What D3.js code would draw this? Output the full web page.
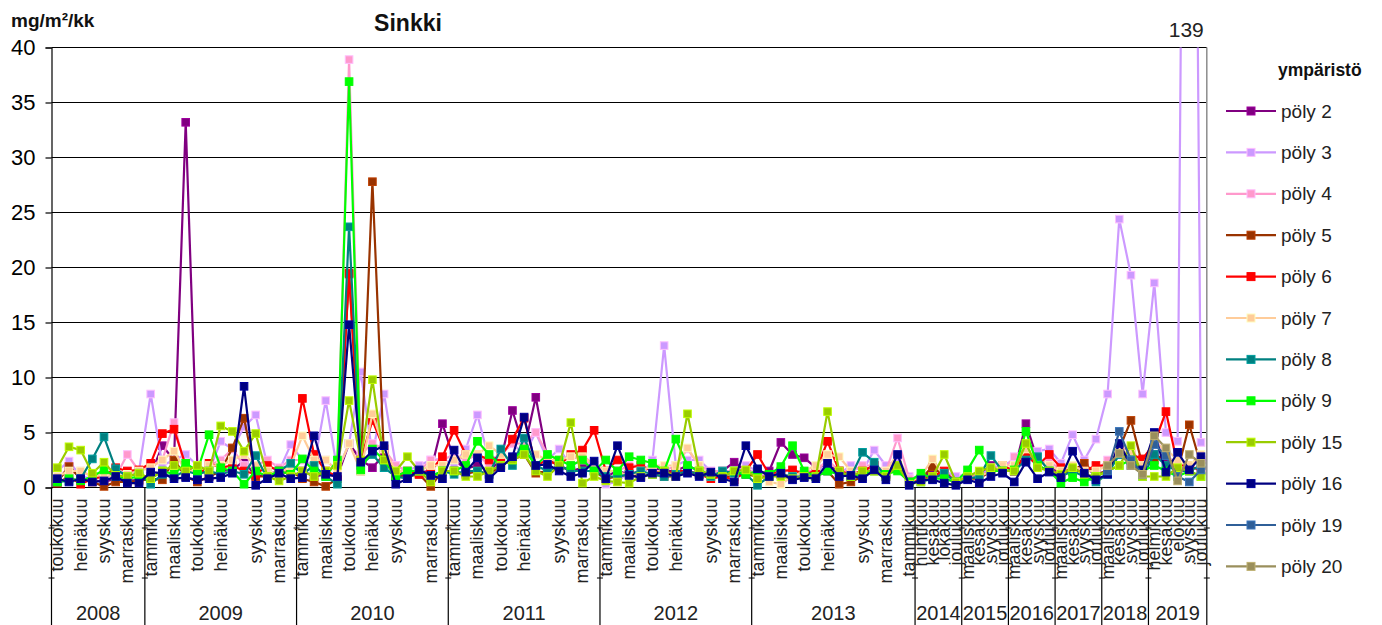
<!DOCTYPE html>
<html><head><meta charset="utf-8">
<script src="https://cdn.jsdelivr.net/npm/d3@7"></script>
<style>body{margin:0;background:#fff;}svg{display:block;}</style>
</head><body>
<svg id="chart" width="1382" height="625"></svg>
<script>
// Sampling years and number of collection periods in each year
const years = ["2008","2009","2010","2011","2012","2013","2014","2015","2016","2017","2018","2019"];
const periodsPerYear = [8,13,13,13,13,14,4,4,4,4,4,5];

// Month label of each period ("" = label not printed)
const monthLabels = [
  "toukokuu","","heinäkuu","","syyskuu","","marraskuu","",
  "tammikuu","","maaliskuu","","toukokuu","","heinäkuu","","","syyskuu","","marraskuu","",
  "tammikuu","","maaliskuu","","toukokuu","","heinäkuu","","syyskuu","","","marraskuu","",
  "tammikuu","","maaliskuu","","toukokuu","","heinäkuu","","","syyskuu","","marraskuu","",
  "tammikuu","","maaliskuu","","toukokuu","","heinäkuu","","","syyskuu","","marraskuu","",
  "tammikuu","","maaliskuu","","toukokuu","","heinäkuu","","","syyskuu","","marraskuu","","tammikuu",
  "huhtikuu","kesäkuu","lokakuu","joulukuu",
  "maaliskuu","kesäkuu","syyskuu","joulukuu",
  "maaliskuu","kesäkuu","syyskuu","joulukuu",
  "maaliskuu","kesäkuu","syyskuu","joulukuu",
  "maaliskuu","kesäkuu","syyskuu","joulukuu",
  "helmikuu","kesäkuu","elokuu","syyskuu","joulukuu"
];

const yTicks = [0,5,10,15,20,25,30,35,40];

// Zinc deposition, mg/m²/kk, per station
const poly2 = [0.6,1.9,0.9,0.7,0.5,0.8,0.6,0.7,
  1.2,3.8,2.5,33.2,1.9,1.0,1.5,1.6,2.4,1.0,1.2,1.5,2.0,
  1.5,1.0,1.2,1.0,4.0,2.5,1.8,3.0,1.0,1.2,1.4,1.5,5.8,
  2.5,1.7,2.0,1.5,2.5,7.0,3.5,8.2,2.5,2.0,1.5,1.8,2.0,
  1.0,1.5,1.2,1.5,1.8,1.5,1.5,2.0,1.5,1.2,1.5,2.3,1.5,
  1.2,1.5,4.1,3.0,2.7,1.8,2.0,1.5,1.2,1.5,2.0,1.2,2.5,0.5,
  0.8,1.5,0.8,0.5, 0.8,1.2,2.0,1.5, 1.5,5.8,2.5,2.0, 1.2,1.5,1.8,1.2, 1.5,3.0,2.5,2.0,
  3.0,2.5,1.5,2.0,2.5];
const poly3 = [1.5,2.4,1.0,0.8,1.0,1.2,1.5,1.5,
  8.5,2.0,2.5,3.0,2.0,1.5,4.2,3.5,5.5,6.6,2.0,1.5,3.9,
  2.5,2.0,7.9,1.5,4.0,10.5,3.0,8.5,2.0,1.5,2.0,2.5,2.6,
  2.0,3.5,6.6,2.5,3.0,4.0,3.0,5.0,2.5,3.5,2.0,2.5,2.0,
  0.3,0.5,1.5,1.0,2.5,12.9,2.0,2.5,2.5,1.5,1.2,1.2,2.0,
  1.5,1.0,1.2,1.0,1.0,1.5,2.0,1.2,2.0,1.5,3.4,2.0,2.5,1.0,
  0.8,1.0,1.5,1.0, 1.2,1.0,1.8,2.0, 2.5,2.5,3.3,3.5, 2.2,4.8,2.5,4.4, 8.5,24.4,19.3,8.5,
  18.6,5.0,4.2,139,4.1];
const poly4 = [1.0,1.5,1.5,1.0,1.2,1.0,3.0,1.5,
  2.0,2.5,5.9,1.5,1.5,2.0,2.5,3.5,2.0,2.0,2.5,1.8,2.5,
  2.5,3.0,2.5,1.5,38.9,3.0,4.0,3.5,2.0,1.5,1.5,2.5,2.5,
  3.0,2.5,3.0,2.0,3.0,4.0,4.0,5.0,3.0,2.5,2.5,3.0,2.0,
  1.5,1.5,2.0,2.0,1.5,1.5,2.0,3.5,2.0,1.5,1.5,1.5,1.5,
  1.5,1.0,1.5,1.5,1.5,1.5,2.5,1.5,1.5,2.0,2.0,1.5,4.5,0.8,
  0.8,1.0,1.0,0.5, 1.0,1.0,1.5,1.5, 2.8,3.5,2.0,2.5, 1.5,2.0,1.5,1.5, 2.5,3.5,3.5,2.0,
  4.5,3.0,2.0,2.0,2.5];
const poly5 = [0.5,1.9,0.8,0.5,0.1,0.5,0.5,0.6,
  0.8,0.7,2.5,1.0,0.5,1.0,1.5,3.6,6.3,1.0,1.0,1.2,1.5,
  0.8,0.5,0.1,0.8,19.4,1.5,27.8,2.5,1.0,1.0,1.2,0.1,1.5,
  1.5,1.2,1.5,1.2,2.0,2.5,3.0,1.3,1.5,2.0,1.5,1.5,1.5,
  0.8,1.0,1.2,1.0,1.2,1.0,1.0,1.5,1.2,1.0,1.0,1.0,1.2,
  1.0,1.0,1.2,0.8,1.0,1.0,1.5,0.3,0.5,1.0,1.5,1.0,2.0,0.5,
  0.8,1.9,1.0,0.5, 0.8,0.8,1.5,1.5, 1.5,3.0,2.0,1.5, 1.2,1.5,2.2,1.2, 1.5,3.5,6.1,2.0,
  2.5,3.0,1.5,5.7,2.0];
const poly6 = [0.4,1.0,0.3,0.8,1.0,1.8,1.5,1.6,
  2.2,4.9,5.3,2.0,1.0,2.2,1.8,2.0,1.5,1.2,2.0,1.5,1.7,
  8.1,3.0,1.5,1.0,19.5,2.5,6.1,3.5,1.0,1.5,1.2,1.5,2.8,
  5.2,3.0,3.0,2.5,2.8,4.4,6.3,2.0,2.5,2.0,3.0,3.4,5.2,
  1.5,2.5,1.8,2.0,1.5,1.2,1.5,1.5,1.2,0.8,1.0,0.7,1.5,
  3.0,1.2,1.5,1.6,1.2,1.5,4.2,1.5,1.2,1.5,2.0,1.2,2.0,0.5,
  0.8,1.0,1.5,0.5, 1.0,1.0,1.5,2.0, 1.5,3.0,2.0,3.0, 1.8,1.5,1.5,2.0, 2.0,3.4,3.0,2.6,
  4.0,6.9,2.0,2.0,1.5];
const poly7 = [1.0,1.5,1.5,1.0,1.2,1.0,1.2,1.5,
  1.8,2.5,3.3,1.5,1.5,2.0,2.0,2.5,3.0,2.0,1.5,1.2,2.0,
  4.7,2.5,2.5,1.5,4.0,1.5,6.7,3.5,1.5,1.5,1.5,2.0,2.0,
  2.5,3.0,3.0,3.8,3.0,2.5,3.5,3.0,2.5,2.5,2.8,2.8,2.0,
  1.5,1.5,1.0,1.5,2.0,2.0,2.0,3.6,2.0,1.0,1.5,1.2,1.5,
  1.2,0.5,0.3,1.0,1.5,2.0,3.0,2.8,1.5,1.2,1.5,1.5,3.0,0.5,
  1.0,2.6,1.0,0.5, 1.0,1.0,1.5,2.0, 2.0,3.5,2.5,2.0, 1.5,2.0,1.5,1.5, 2.0,3.5,3.0,2.0,
  4.0,3.5,2.5,2.0,3.0];
const poly8 = [0.5,0.6,0.8,2.6,4.6,1.7,1.0,1.3,
  0.3,1.2,1.0,1.5,1.2,1.5,1.2,1.5,1.2,2.9,0.8,1.5,2.2,
  1.2,2.0,1.0,0.3,23.7,2.0,3.0,1.8,1.0,0.8,1.5,1.0,1.5,
  1.2,1.5,1.5,1.2,3.5,2.0,4.5,2.0,1.5,2.0,1.5,1.5,1.5,
  1.0,1.0,1.2,1.5,1.2,1.0,1.2,1.5,1.2,1.0,1.5,1.3,1.2,
  0.2,1.0,1.2,1.0,1.0,1.0,1.5,1.2,1.0,3.2,2.3,1.0,2.0,0.5,
  0.5,0.8,1.3,0.5, 0.8,1.0,2.9,1.5, 1.5,2.5,2.8,1.5, 1.0,1.5,1.0,0.5, 1.2,3.0,2.5,1.0,
  3.0,2.0,1.5,1.5,2.0];
const poly9 = [0.5,0.8,0.6,1.0,1.6,1.0,0.8,1.0,
  0.8,1.5,1.2,2.2,1.5,4.8,1.8,1.5,0.3,1.5,1.0,1.5,1.2,
  2.6,1.5,1.0,2.5,36.9,1.6,3.5,2.5,1.0,1.5,1.5,1.0,1.5,
  1.5,2.0,4.2,3.0,2.0,2.5,3.5,2.0,3.0,2.5,2.0,2.5,1.5,
  2.5,1.5,2.8,2.5,2.2,1.5,4.4,2.0,1.5,1.2,1.0,1.5,1.2,
  1.5,1.2,1.9,3.8,1.5,1.0,1.5,1.2,1.0,1.2,1.5,1.2,1.5,0.5,
  1.3,0.8,0.8,0.5, 1.6,3.4,1.5,1.5, 1.6,5.1,2.0,1.5, 0.4,0.9,0.5,1.0, 1.5,2.0,2.5,1.5,
  2.0,1.5,1.0,1.5,1.0];
const poly15 = [1.8,3.7,3.4,1.3,2.3,1.1,1.0,1.3,
  0.8,1.5,2.0,1.5,2.0,1.5,5.6,5.1,3.3,4.9,1.0,0.6,1.0,
  1.5,1.0,1.5,2.0,7.9,2.5,9.8,2.5,1.5,2.8,1.5,0.5,1.5,
  1.5,1.0,1.0,1.5,2.0,2.5,3.0,1.5,1.0,2.0,5.9,0.4,1.0,
  0.6,0.5,0.4,1.0,1.2,1.5,1.0,6.7,1.5,1.2,1.0,1.5,1.6,
  0.8,1.0,1.0,0.8,1.0,1.0,6.9,1.5,1.0,1.5,1.5,1.0,2.0,0.3,
  0.5,1.0,3.0,0.5, 1.0,1.5,1.8,1.5, 1.5,4.0,1.8,1.5, 1.2,1.8,1.2,1.0, 1.5,2.0,3.8,1.0,
  1.0,1.0,1.8,1.5,1.0];
const poly16 = [0.8,0.5,0.8,0.5,0.6,1.0,0.4,0.4,
  1.4,1.3,0.8,0.9,0.7,0.8,0.9,1.3,9.2,0.2,0.8,1.3,0.8,
  0.9,4.7,1.2,1.0,14.8,2.3,3.3,3.8,0.3,0.8,1.6,1.1,0.8,
  3.4,1.4,2.7,0.8,1.8,2.8,6.4,2.0,2.1,1.5,1.0,1.3,2.4,
  0.8,3.8,1.1,0.9,1.3,1.3,1.0,1.3,1.0,1.4,0.8,0.5,3.8,
  1.7,1.0,1.3,0.7,0.9,0.8,2.2,1.0,1.1,0.8,1.6,0.7,3.0,0.2,
  0.7,0.7,0.4,0.2, 0.7,0.4,1.0,1.3, 0.5,2.3,0.8,1.4, 0.9,3.3,1.3,0.7, 1.2,4.0,2.0,1.6,
  5.0,1.4,3.2,1.6,2.8];
const before2018 = new Array(90).fill(null);
const poly19 = before2018.concat([1.5,5.1,2.5,1.2, 3.9,2.9,1.0,0.5,1.6]);
const poly20 = before2018.concat([2.0,3.1,2.0,1.2, 4.7,3.6,0.6,3.0,2.2]);

const seriesNames = ["pöly 2","pöly 3","pöly 4","pöly 5","pöly 6","pöly 7","pöly 8","pöly 9","pöly 15","pöly 16","pöly 19","pöly 20"];
const seriesValues = [poly2,poly3,poly4,poly5,poly6,poly7,poly8,poly9,poly15,poly16,poly19,poly20];
const seriesColors = ["#800080","#CC99FF","#FF99CC","#993300","#FF0000","#FFCC99","#008080","#00FF00","#99CC00","#000080","#2F5F98","#9A8F5C"];

const svg = d3.select("#chart");
const plot = {left: 51.5, right: 1206.8, top: 47.5, bottom: 487.5};
const n = monthLabels.length;

const x = d3.scaleBand().domain(d3.range(n)).range([plot.left, plot.right]).paddingInner(0).paddingOuter(0);
const cx = i => x(i) + x.bandwidth() / 2;
const y = d3.scaleLinear().domain([0, 40]).range([plot.bottom, plot.top]);

// gridlines
svg.append("g").selectAll("line").data(yTicks.filter(t => t > 0)).join("line")
  .attr("x1", plot.left).attr("x2", plot.right)
  .attr("y1", d => y(d)).attr("y2", d => y(d))
  .attr("stroke", "#000").attr("stroke-width", 1.2);

// plot border on the right
svg.append("line").attr("x1", plot.right).attr("x2", plot.right)
  .attr("y1", plot.top).attr("y2", plot.bottom).attr("stroke", "#8c8c8c").attr("stroke-width", 1.5);

// y axis
const yAxis = d3.axisLeft(y).tickValues(yTicks).tickSize(6).tickPadding(8);
const gy = svg.append("g").attr("transform", `translate(${plot.left},0)`).call(yAxis);
gy.select(".domain").attr("stroke", "#000").attr("stroke-width", 1.2);
gy.selectAll(".tick line").attr("stroke", "#000").attr("stroke-width", 1.2);
gy.selectAll(".tick text").attr("font-family", "Liberation Sans, Arial, sans-serif")
  .attr("font-size", 22).attr("fill", "#000").attr("dx", "-2");

// x axis baseline
svg.append("line").attr("x1", plot.left).attr("x2", plot.right)
  .attr("y1", plot.bottom).attr("y2", plot.bottom).attr("stroke", "#000").attr("stroke-width", 1.2);

// year group separators and labels
let start = 0;
const groups = periodsPerYear.map((cnt, k) => {
  const g = {year: years[k], from: start, to: start + cnt - 1};
  start += cnt;
  return g;
});
const bounds = [plot.left].concat(groups.map(g => x(g.to) + x.bandwidth()));
svg.append("g").selectAll("line").data(bounds).join("line")
  .attr("x1", d => d).attr("x2", d => d)
  .attr("y1", plot.bottom).attr("y2", 625)
  .attr("stroke", "#000").attr("stroke-width", 1.2);
// short level marks on the separators
const marks = svg.append("g");
bounds.forEach(b => {
  [528, 578].forEach(yy => {
    marks.append("line").attr("x1", b - 3).attr("x2", b + 3)
      .attr("y1", yy).attr("y2", yy).attr("stroke", "#000").attr("stroke-width", 1);
  });
});
svg.append("g").selectAll("text").data(groups).join("text")
  .attr("x", g => (x(g.from) + x(g.to) + x.bandwidth()) / 2)
  .attr("y", 620)
  .attr("text-anchor", "middle")
  .attr("font-family", "Liberation Sans, Arial, sans-serif")
  .attr("font-size", 20).attr("fill", "#222")
  .text(g => g.year);

// month labels, rotated
svg.append("g").selectAll("text").data(monthLabels.map((m, i) => ({m, i})).filter(d => d.m)).join("text")
  .attr("transform", d => `translate(${cx(d.i)},${plot.bottom + 11}) rotate(-90)`)
  .attr("text-anchor", "end")
  .attr("dominant-baseline", "central")
  .attr("font-family", "Liberation Sans, Arial, sans-serif")
  .attr("font-size", 18).attr("fill", "#222")
  .text(d => d.m);

// series
svg.append("defs").append("clipPath").attr("id", "plotClip")
  .append("rect").attr("x", plot.left).attr("y", plot.top)
  .attr("width", plot.right - plot.left).attr("height", plot.bottom - plot.top + 6);

const line = d3.line().defined(d => d != null).x((d, i) => cx(i)).y(d => y(d));
const seriesG = svg.append("g").attr("clip-path", "url(#plotClip)");
seriesValues.forEach((vals, s) => {
  const col = seriesColors[s];
  const g = seriesG.append("g");
  g.append("path").datum(vals).attr("d", line)
    .attr("fill", "none").attr("stroke", col).attr("stroke-width", 2.2).attr("stroke-linejoin", "round");
  g.selectAll("rect").data(vals.map((v, i) => ({v, i})).filter(d => d.v != null)).join("rect")
    .attr("x", d => cx(d.i) - 3.8).attr("y", d => y(d.v) - 3.8)
    .attr("width", 7.6).attr("height", 7.6)
    .attr("fill", col)
    .attr("stroke", d3.color(col).brighter(0.6)).attr("stroke-width", 1);
});

// value label for the off-scale reading
const offIdx = poly3.findIndex(v => v > 40);
svg.append("text").attr("x", cx(offIdx) - 3).attr("y", 37)
  .attr("text-anchor", "middle")
  .attr("font-family", "Liberation Sans, Arial, sans-serif")
  .attr("font-size", 21).attr("fill", "#222")
  .text(poly3[offIdx]);

// titles
svg.append("text").attr("x", 408).attr("y", 31).attr("text-anchor", "middle")
  .attr("font-family", "Liberation Sans, Arial, sans-serif").attr("font-weight", "bold")
  .attr("font-size", 23).attr("fill", "#111").text("Sinkki");
svg.append("text").attr("x", 11).attr("y", 27)
  .attr("font-family", "Liberation Sans, Arial, sans-serif").attr("font-weight", "bold")
  .attr("font-size", 19).attr("fill", "#111")
  .text("mg/m²/kk");

// legend
const legend = svg.append("g").attr("transform", "translate(1226,0)");
legend.append("text").attr("x", 52).attr("y", 76)
  .attr("font-family", "Liberation Sans, Arial, sans-serif").attr("font-weight", "bold")
  .attr("font-size", 17.5).attr("fill", "#111").text("ympäristö");
const items = legend.selectAll("g.item").data(seriesNames).join("g")
  .attr("class", "item")
  .attr("transform", (d, i) => `translate(0,${111 + i * 41.4})`);
items.append("line").attr("x1", 0).attr("x2", 50).attr("y1", 0).attr("y2", 0)
  .attr("stroke", (d, i) => seriesColors[i]).attr("stroke-width", 2.2);
items.append("rect").attr("x", 21).attr("y", -4).attr("width", 8).attr("height", 8)
  .attr("fill", (d, i) => seriesColors[i])
  .attr("stroke", (d, i) => d3.color(seriesColors[i]).brighter(0.6)).attr("stroke-width", 1);
items.append("text").attr("x", 55).attr("y", 0).attr("dominant-baseline", "central")
  .attr("font-family", "Liberation Sans, Arial, sans-serif")
  .attr("font-size", 19).attr("fill", "#222").text(d => d);
</script>
</body></html>
